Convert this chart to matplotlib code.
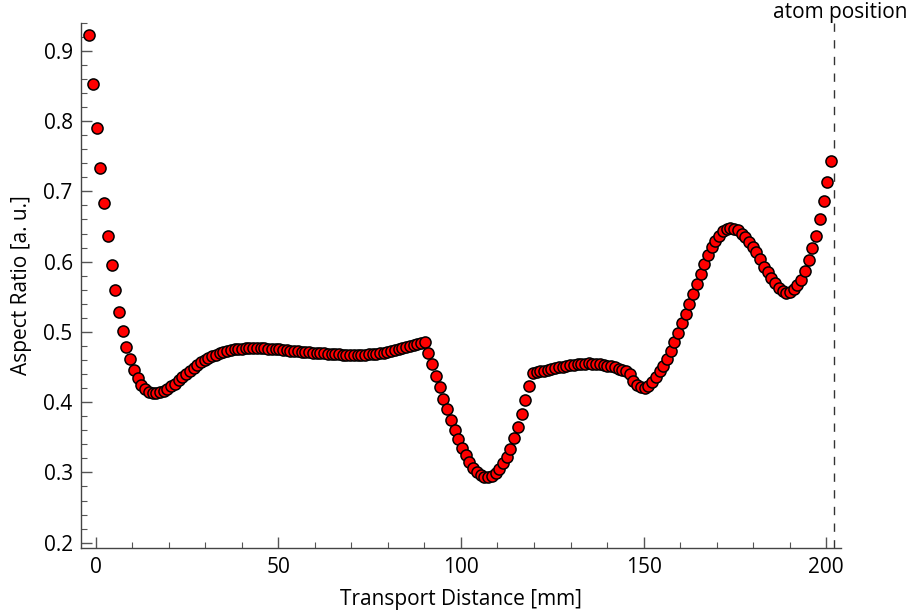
import numpy as np
import matplotlib
matplotlib.use("Agg")
import matplotlib.pyplot as plt
from matplotlib.ticker import MultipleLocator

plt.rcParams['font.family'] = ['Open Sans', 'DejaVu Sans']

# aspect ratio, one value per sample (200 samples, ~1 mm apart)
aspect = [
    0.922, 0.853, 0.790, 0.733, 0.683, 0.636, 0.595, 0.559, 0.528, 0.501,
    0.479, 0.461, 0.446, 0.434, 0.4245, 0.4185, 0.4148, 0.4130, 0.4127, 0.4138,
    0.416, 0.419, 0.4225, 0.4265, 0.431, 0.4355, 0.4403, 0.445, 0.4493, 0.4532,
    0.4567, 0.4598, 0.4627, 0.4652, 0.4675, 0.4695, 0.4712, 0.4727, 0.474, 0.475,
    0.4758, 0.4763, 0.477, 0.477, 0.477, 0.477, 0.4768, 0.4765, 0.476, 0.4757,
    0.4753, 0.475, 0.4745, 0.474, 0.4735, 0.473, 0.4725, 0.472, 0.4715, 0.471,
    0.4705, 0.470, 0.4697, 0.4693, 0.469, 0.4687, 0.4683, 0.468, 0.4677, 0.4675,
    0.4673, 0.4672, 0.4672, 0.4673, 0.4675, 0.468, 0.4685, 0.469, 0.4697, 0.4705,
    0.4715, 0.4725, 0.4737, 0.475, 0.4765, 0.478, 0.4795, 0.481, 0.4828, 0.4845,
    0.486, 0.470, 0.454, 0.437, 0.421, 0.405, 0.390, 0.375, 0.360, 0.348,
    0.335, 0.325, 0.315, 0.307, 0.301, 0.297, 0.294, 0.2935, 0.2955, 0.299,
    0.3045, 0.313, 0.322, 0.334, 0.349, 0.365, 0.383, 0.403, 0.4235, 0.441,
    0.4425, 0.4437, 0.4449, 0.446, 0.447, 0.4488, 0.4497, 0.4507, 0.4516, 0.4525,
    0.4533, 0.454, 0.4546, 0.455, 0.4552, 0.455, 0.4545, 0.4538, 0.453, 0.452,
    0.4508, 0.4495, 0.4475, 0.4455, 0.4437, 0.440, 0.430, 0.4245, 0.421, 0.420,
    0.4225, 0.428, 0.436, 0.4437, 0.452, 0.4618, 0.4725, 0.4855, 0.499, 0.5125,
    0.5257, 0.540, 0.554, 0.568, 0.583, 0.5965, 0.610, 0.6205, 0.630, 0.637,
    0.643, 0.646, 0.6474, 0.647, 0.6445, 0.640, 0.6345, 0.628, 0.6213, 0.6135,
    0.6035, 0.5927, 0.5855, 0.5773, 0.5693, 0.5623, 0.5575, 0.5553, 0.557, 0.5613,
    0.5665, 0.5736, 0.5865, 0.603, 0.619, 0.637, 0.660, 0.686, 0.7135, 0.7434,
]
# transport distance of the samples [mm], evenly spaced
distance = np.linspace(-1.75, 201.3, len(aspect))

atom_position = 202
x_ticks = [0, 50, 100, 150, 200]
y_ticks = [0.2, 0.3, 0.4, 0.5, 0.6, 0.7, 0.8, 0.9]

fig = plt.figure(figsize=(9.14, 6.13), dpi=100)
ax = fig.add_axes([0.0886, 0.1055, 0.8314, 0.8575])

ax.scatter(distance, aspect, s=64, color='#ff0000', edgecolors='black',
           linewidths=1.1, zorder=3)
ax.axvline(atom_position, color='#333333', lw=1.0, dashes=(6, 6), zorder=2)
fig.text(0.919, 0.979, 'atom position', ha='center', va='center', fontsize=15)

ax.set_xlim(-4, 204)
ax.set_ylim(0.192, 0.940)
ax.set_xticks(x_ticks)
ax.set_yticks(y_ticks)
ax.set_yticklabels(['%.1f' % v for v in y_ticks])
ax.xaxis.set_minor_locator(MultipleLocator(10))
ax.yaxis.set_minor_locator(MultipleLocator(0.02))

for side in ['top', 'right']:
    ax.spines[side].set_visible(False)
for side in ['left', 'bottom']:
    ax.spines[side].set_color('#444444')
    ax.spines[side].set_linewidth(1.0)

ax.tick_params(which='major', direction='in', length=8, width=1, color='#555555',
               labelsize=15, pad=6)
ax.tick_params(which='minor', direction='in', length=4.5, width=0.8, color='#555555')

ax.set_xlabel('Transport Distance [mm]', fontsize=15, labelpad=8)
ax.set_ylabel('Aspect Ratio [a. u.]', fontsize=15, labelpad=8)

plt.savefig('out.png', dpi=100)
